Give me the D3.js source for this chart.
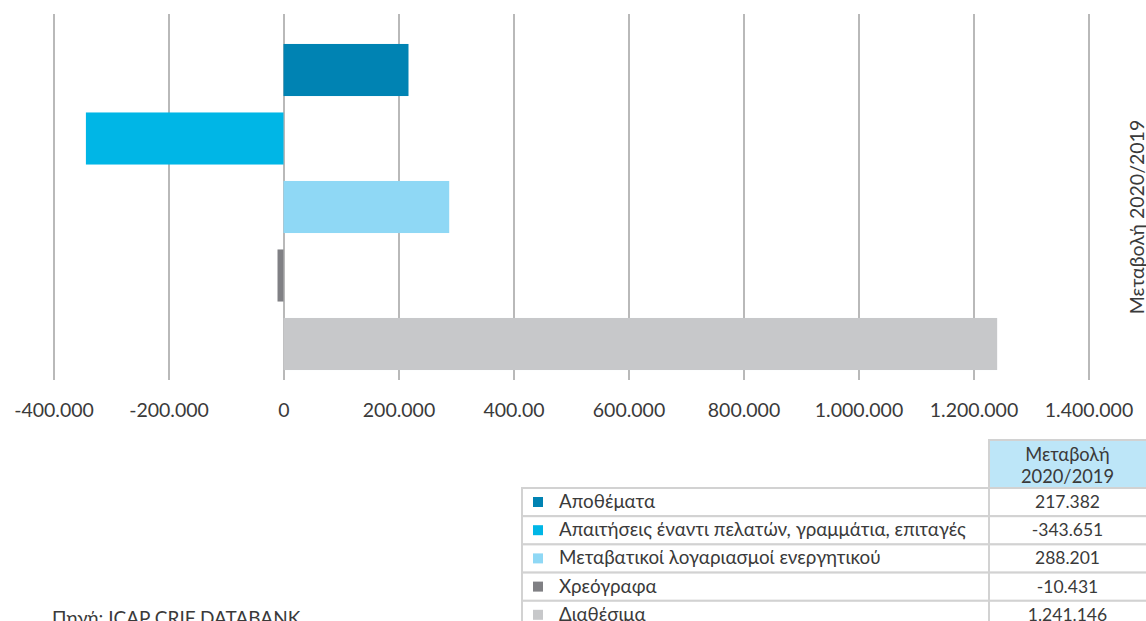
<!DOCTYPE html>
<html>
<head>
<meta charset="utf-8">
<script src="https://cdn.jsdelivr.net/npm/d3@7/dist/d3.min.js"></script>
<style>
  html, body { margin: 0; padding: 0; background: #fff; overflow: hidden; }
  svg { display: block; font-family: Lato, "Open Sans", sans-serif; }
</style>
</head>
<body>
<svg id="chart" width="1146" height="621"></svg>
<script>
const categories = ["Αποθέματα", "Απαιτήσεις έναντι πελατών, γραμμάτια, επιταγές", "Μεταβατικοί λογαριασμοί ενεργητικού", "Χρεόγραφα", "Διαθέσιμα"];
const values = [217382, -343651, 288201, -10431, 1241146];
const valueLabels = ["217.382", "-343.651", "288.201", "-10.431", "1.241.146"];
const colors = ["#0083b3", "#00b6e6", "#8fd8f5", "#808084", "#c7c8ca"];
const tickValues = [-400000, -200000, 0, 200000, 400000, 600000, 800000, 1000000, 1200000, 1400000];
const tickLabels = ["-400.000", "-200.000", "0", "200.000", "400.00", "600.000", "800.000", "1.000.000", "1.200.000", "1.400.000"];
const seriesName = ["Μεταβολή", "2020/2019"];
const sourceText = "Πηγή: ICAP CRIF DATABANK";

const svg = d3.select("#chart");

const x = d3.scaleLinear().domain([-400000, 1400000]).range([53.5, 1088.5]);
const y = d3.scaleBand().domain(categories).range([35.75, 378.25]).paddingInner(0.24).paddingOuter(0.12);

// gridlines via axis
const grid = svg.append("g").attr("transform", "translate(0,14)")
  .call(d3.axisBottom(x).tickValues(tickValues).tickSize(366).tickFormat(""));
grid.select(".domain").remove();
grid.selectAll(".tick line").attr("stroke", "#a8a8a8").attr("stroke-width", 1.6);

// bars
svg.append("g").selectAll("rect").data(categories).join("rect")
  .attr("x", (d, i) => Math.min(x(0), x(values[i])))
  .attr("y", d => y(d))
  .attr("width", (d, i) => Math.abs(x(values[i]) - x(0)))
  .attr("height", y.bandwidth())
  .attr("fill", (d, i) => colors[i]);

// tick labels
const ax = svg.append("g").attr("transform", "translate(0,401)")
  .call(d3.axisBottom(x).tickValues(tickValues).tickSize(0).tickPadding(0)
    .tickFormat((d, i) => tickLabels[i]));
ax.select(".domain").remove();
ax.selectAll("text").attr("font-family", "Lato, sans-serif").attr("font-size", 19.5)
  .attr("fill", "#3a3a3a").attr("dy", "0.8em");

// rotated right label
svg.append("text")
  .attr("transform", "translate(1144,217) rotate(-90)")
  .attr("text-anchor", "middle")
  .attr("font-size", 19.5).attr("fill", "#3a3a3a")
  .text(seriesName.join(" "));

// table
const tbl = svg.append("g");
const tLeft = 522, tMid = 989, tRight = 1160, hTop = 440, hBot = 488, rowH = 28.2;
const border = "#d2d2d2";
tbl.append("rect").attr("x", tMid).attr("y", hTop).attr("width", tRight - tMid).attr("height", hBot - hTop)
  .attr("fill", "#bde6f8").attr("stroke", border).attr("stroke-width", 2);
tbl.selectAll("text.h").data(seriesName).join("text").attr("class", "h")
  .attr("x", (tMid + 1146) / 2).attr("y", (d, i) => 461 + i * 22)
  .attr("text-anchor", "middle").attr("font-size", 18.3).attr("fill", "#3a3a3a").text(d => d);

const rows = tbl.selectAll("g.row").data(categories).join("g").attr("class", "row")
  .attr("transform", (d, i) => `translate(0,${hBot + i * rowH})`);
rows.append("rect").attr("x", tLeft).attr("y", 0).attr("width", tRight - tLeft).attr("height", rowH)
  .attr("fill", "#fff").attr("stroke", border).attr("stroke-width", 2);
rows.append("line").attr("x1", tMid).attr("x2", tMid).attr("y1", 0).attr("y2", rowH)
  .attr("stroke", border).attr("stroke-width", 2);
rows.append("rect").attr("x", 533).attr("y", 9).attr("width", 10).attr("height", 10)
  .attr("fill", (d, i) => colors[i]);
rows.append("text").attr("x", 559).attr("y", 20).attr("font-size", 18.8).attr("fill", "#3a3a3a").text(d => d);
rows.append("text").attr("x", (tMid + 1146) / 2).attr("y", 20).attr("text-anchor", "middle")
  .attr("font-size", 17.5).attr("fill", "#3a3a3a").text((d, i) => valueLabels[i]);

// source
svg.append("text").attr("x", 52).attr("y", 625).attr("font-size", 19).attr("fill", "#3a3a3a").text(sourceText);
</script>
</body>
</html>
